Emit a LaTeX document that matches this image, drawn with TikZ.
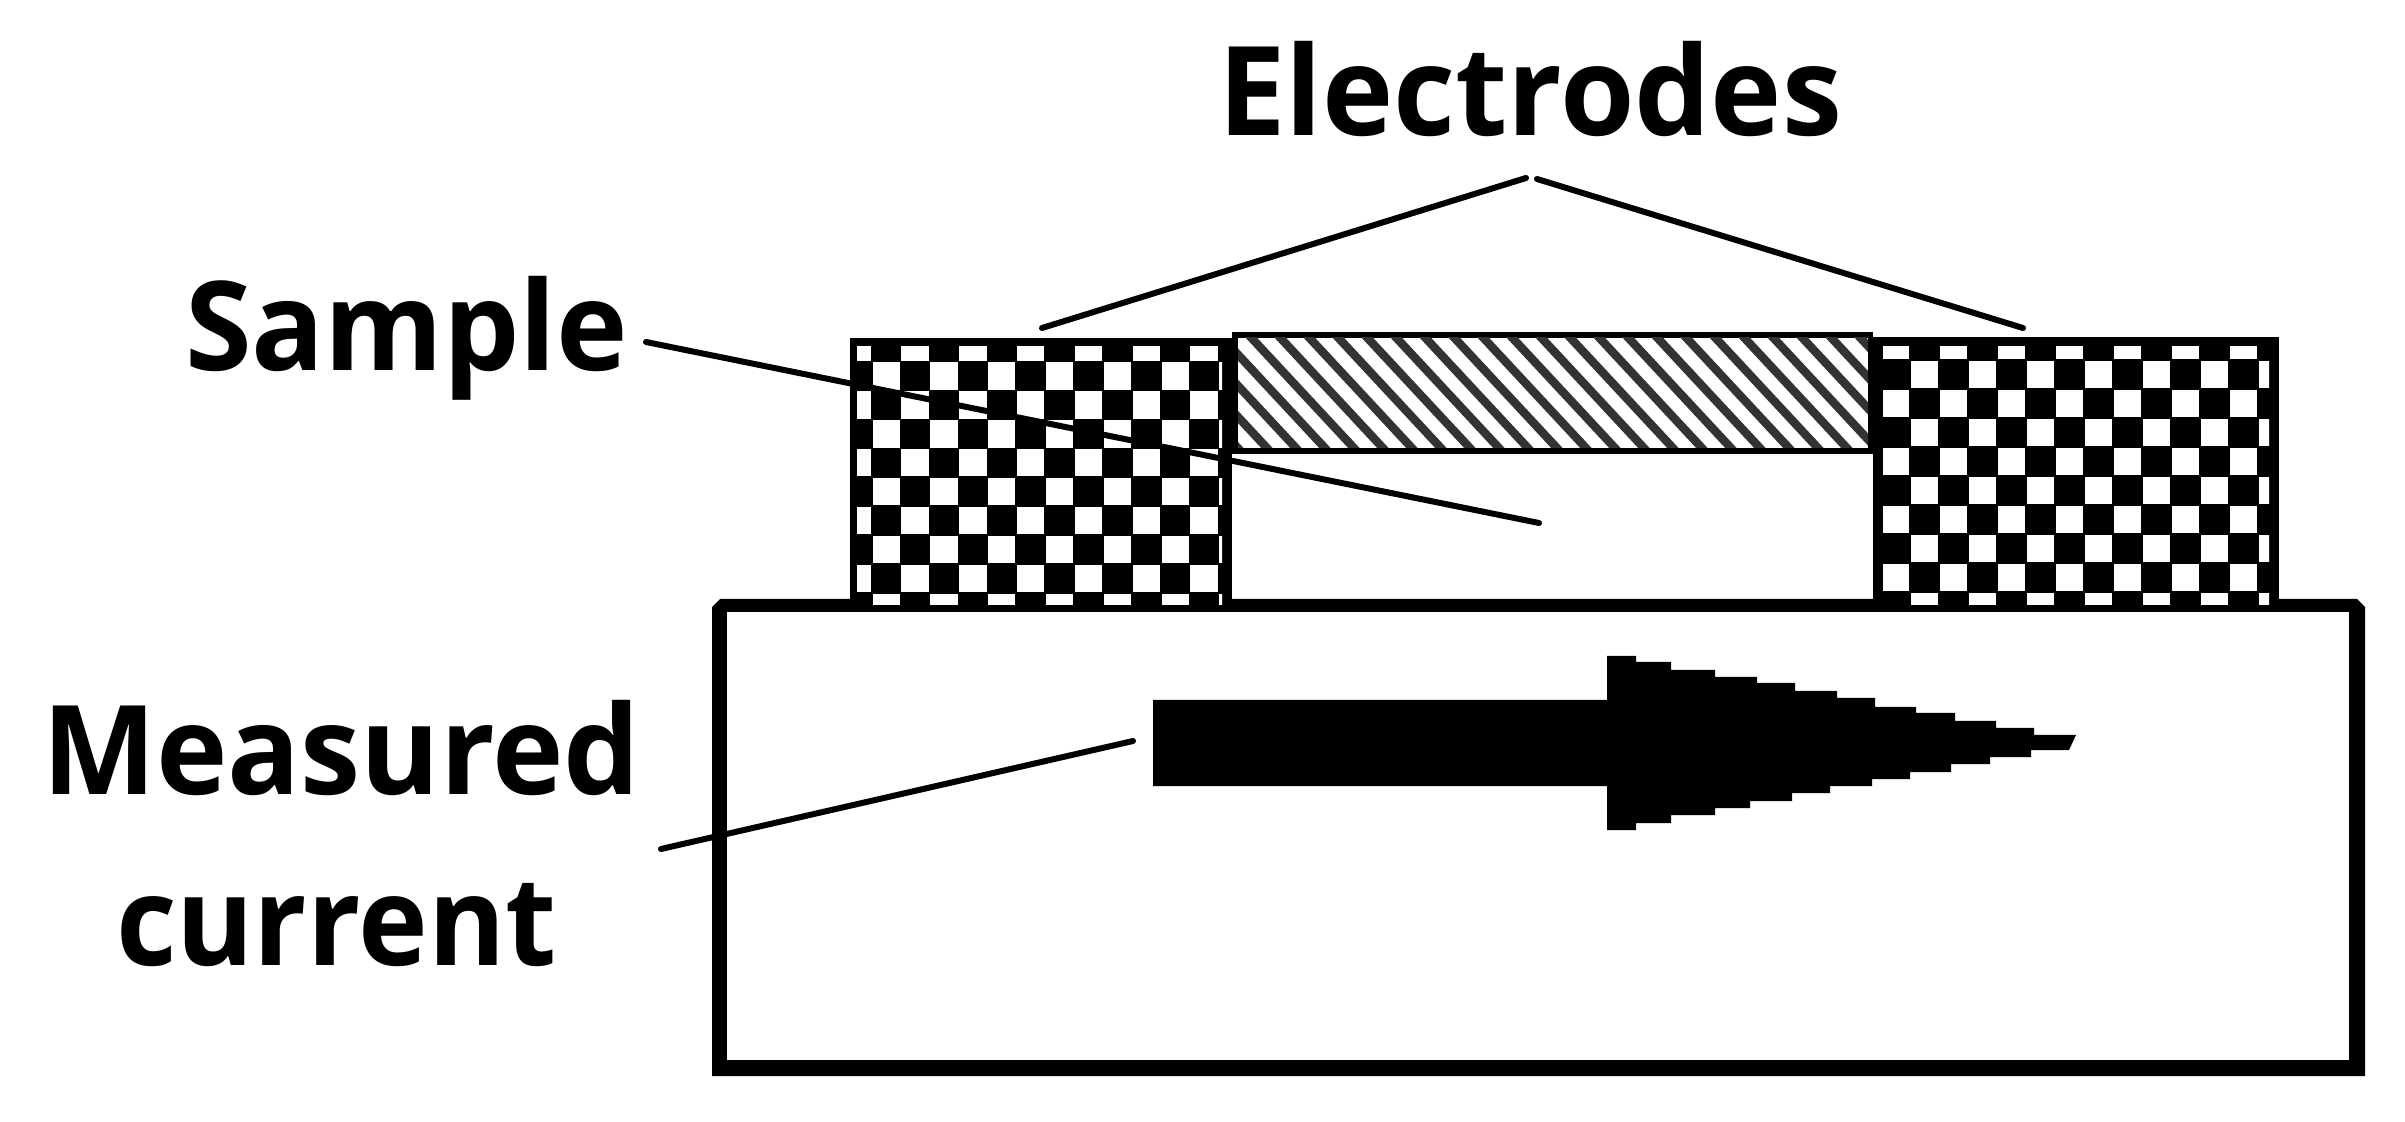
\documentclass[tikz,border=0pt]{standalone}
\usepackage{fontspec}
\setmainfont{Open Sans}
\tikzset{
  leader/.style={draw=black,line width=3pt,line cap=round},
  solidblack/.style={fill=black,draw=none},
  cellwhite/.style={fill=white,draw=none},
  label/.style={anchor=base west,inner sep=0pt,outer sep=0pt,font=\bfseries\fontsize{62}{70}\selectfont},
}
\begin{document}
\begin{tikzpicture}[x=0.5pt,y=-0.5pt]
\useasboundingbox (0,0) rectangle (2405,1122);
\fill[white] (0,0) rectangle (2405,1122);
% base block
\fill[solidblack] (712,607) -- (720,599) -- (2357,599) -- (2365,607) -- (2365,1076) -- (712,1076) -- cycle;
\fill[cellwhite] (727,612) rectangle (2349,1060);
% current arrow
\fill[solidblack] (1153,700) -- (1607,700) -- (1607,656) -- (1636,656) -- (1636,662) -- (1671,662) -- (1671,670) -- (1715,670) -- (1715,677) -- (1757,677) -- (1757,683) -- (1795,683) -- (1795,691) -- (1837,691) -- (1837,698) -- (1875,698) -- (1875,707) -- (1916,707) -- (1916,713) -- (1955,713) -- (1955,721) -- (1996,721) -- (1996,728) -- (2034,728) -- (2034,735) -- (2076,735) -- (2069,750) -- (2031,750) -- (2031,757) -- (1990,757) -- (1990,764) -- (1951,764) -- (1951,772) -- (1910,772) -- (1910,779) -- (1872,779) -- (1872,786) -- (1830,786) -- (1830,793) -- (1792,793) -- (1792,801) -- (1750,801) -- (1750,808) -- (1715,808) -- (1715,815) -- (1671,815) -- (1671,823) -- (1636,823) -- (1636,830) -- (1607,830) -- (1607,786) -- (1153,786) -- cycle;
% sample hatch
\fill[solidblack] (1232,332) rectangle (1873,454);
\fill[cellwhite] (1238,338) rectangle (1868,448);
\begin{scope}
\clip (1238,338) rectangle (1868,448);
\foreach \k in {-14,...,20}
  \draw[black!80,line width=4.2pt] ({1357.3+29*\k},327) -- ({1479.2+29*\k},458);
\end{scope}
% left electrode
\fill[solidblack] (850,338) rectangle (1232,612);
\begin{scope}
\clip (857,346.5) rectangle (1222,605);
\foreach \i in {-1,...,12} \foreach \j in {-1,...,8} {
  \pgfmathparse{int(mod(\i+\j+20,2))}
  \ifnum\pgfmathresult=0
    \fill[cellwhite] ({871.7+28.9*\i+0.8},{361.7+28.9*\j+0.8}) rectangle ({871.7+28.9*(\i+1)-0.8},{361.7+28.9*(\j+1)-0.8});
  \fi
}
\end{scope}
% right electrode
\fill[solidblack] (1873,337) rectangle (2279,612);
\begin{scope}
\clip (1883,346.5) rectangle (2269,605);
\foreach \i in {0,...,13} \foreach \j in {-1,...,8} {
  \pgfmathparse{int(mod(\i+\j+20,2))}
  \ifnum\pgfmathresult=1
    \fill[cellwhite] ({1910+29*(\i-1)+0.8},{360+29*\j+0.8}) rectangle ({1910+29*\i-0.8},{360+29*(\j+1)-0.8});
  \fi
}
\end{scope}
% labels
\node[label] (electrodes) at (1218,136) {\scalebox{0.972}[1]{Electrodes}};
\node[label] (sample) at (185,370.5) {\scalebox{0.975}[1]{Sample}};
\node[label] (measured) at (42,794.5) {\scalebox{0.975}[1]{Measured}};
\node[label] (current) at (116,965) {\scalebox{0.95}[1]{current}};
% leader ends
\coordinate (eapexl) at (1526,178);
\coordinate (eapexr) at (1537,179);
\coordinate (eleft) at (1042,328);
\coordinate (eright) at (2023,328);
\coordinate (sstart) at (646,342);
\coordinate (send) at (1539,523);
\coordinate (mstart) at (661,849);
\coordinate (mend) at (1133,741);
\draw[leader] (eapexl) -- (eleft);
\draw[leader] (eapexr) -- (eright);
\draw[leader] (sstart) -- (send);
\draw[leader] (mstart) -- (mend);
\end{tikzpicture}
\end{document}
